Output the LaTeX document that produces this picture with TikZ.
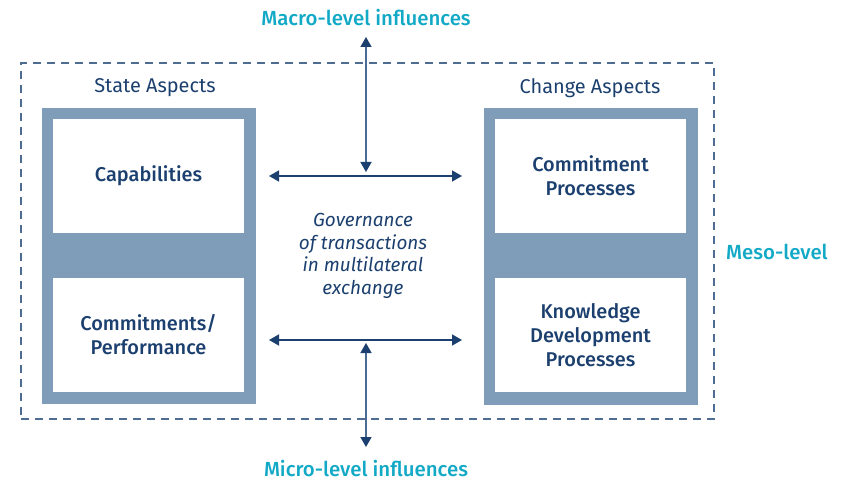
\documentclass[tikz,border=0pt]{standalone}
\usepackage{fontspec}
\setmainfont{Fira Sans}[BoldFont={Fira Sans Medium}]
\usetikzlibrary{arrows.meta}
\definecolor{navy}{HTML}{1B3F6E}
\definecolor{cyanlab}{HTML}{12A9C6}
\definecolor{greyblue}{HTML}{7F9DB8}
\definecolor{dashcol}{HTML}{4F6D92}
\definecolor{vline}{HTML}{4A6B93}
\begin{document}
\begin{tikzpicture}[x=1bp,y=-1bp,
  block/.style={fill=greyblue,draw=none,minimum width=214bp,minimum height=296bp,inner sep=0pt},
  whitebox/.style={fill=white,draw=none,minimum width=191bp,minimum height=114bp,inner sep=0pt,align=center,
    text=navy,font=\fontsize{20}{24}\selectfont\bfseries},
  heading/.style={text=navy,font=\fontsize{20}{22}\selectfont,inner sep=0pt},
  level/.style={text=cyanlab,font=\fontsize{20.5}{22}\selectfont\bfseries,inner sep=0pt},
  frame/.style={draw=dashcol,line width=1.3bp,dash pattern=on 8bp off 6bp,minimum width=693bp,minimum height=356bp,inner sep=0pt},
  harrow/.style={draw=navy,line width=1.5bp,{Triangle[length=10bp,width=11bp]}-{Triangle[length=10bp,width=11bp]}},
  varrow/.style={draw=vline,line width=1.5bp,{Triangle[length=10bp,width=11bp,color=navy]}-{Triangle[length=10bp,width=11bp,color=navy]}}
]
\useasboundingbox (0,0) rectangle (844,482);
\node[frame] (meso) at (367.5,241) {};
\node[block] (lblock) at (149,256) {};
\node[block] (rblock) at (591,256.5) {};
\node[whitebox] (cap) at (148.5,176) {Capabilities};
\node[whitebox] (comm) at (148.5,335) {Commitments/\\Performance};
\node[whitebox] (cproc) at (590.5,176) {Commitment\\Processes};
\node[whitebox] (kdp) at (590.5,335) {Knowledge\\Development\\Processes};
\node[heading] (state) at (155,88) {State Aspects};
\node[heading] (change) at (590,88) {Change Aspects};
\node[level] (macro) at (366,18) {Macro-level influences};
\node[level] (micro) at (366,469) {Micro-level influences};
\node[level,anchor=west] (mesolab) at (726,252) {Meso-level};
\node[text=navy,align=center,font=\fontsize{19}{22.6}\selectfont\itshape,inner sep=0pt] (gov) at (363,256)
  {Governance\\of transactions\\in multilateral\\exchange};
\coordinate (ul) at (269,176);
\coordinate (ur) at (462,176);
\coordinate (ll) at (269,340);
\coordinate (lr) at (462,340);
\coordinate (ut) at (366,37);
\coordinate (ub) at (366,172);
\coordinate (lt) at (366,343);
\coordinate (lb) at (366,447);
\draw[harrow] (ul) -- (ur);
\draw[harrow] (ll) -- (lr);
\draw[varrow] (ut) -- (ub);
\draw[varrow] (lt) -- (lb);
\end{tikzpicture}
\end{document}
